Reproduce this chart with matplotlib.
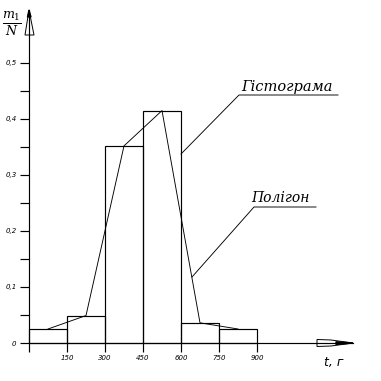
import matplotlib
matplotlib.use("Agg")
import matplotlib.pyplot as plt
import matplotlib.transforms as mtransforms
from matplotlib.patches import Polygon

# histogram data
bin_edges = [0, 150, 300, 450, 600, 750, 900]
rel_freq = [0.025, 0.049, 0.352, 0.415, 0.036, 0.025]
mids = [(a + b) / 2 for a, b in zip(bin_edges[:-1], bin_edges[1:])]

y_ticks = [0, 0.1, 0.2, 0.3, 0.4, 0.5]
y_labels = ["0", "0,1", "0,2", "0,3", "0,4", "0,5"]
x_ticks = [0, 150, 300, 450, 600, 750, 900]
x_labels = ["", "150", "300", "450", "600", "750", "900"]

W = 381
fig = plt.figure(figsize=(W / 100, W / 100), dpi=100)
ax = fig.add_axes([0, 0, 1, 1])
ax.patch.set_visible(False)

# pixel (from top-left) -> figure
T = mtransforms.Affine2D().scale(1 / W, -1 / W).translate(0, 1) + fig.transFigure

# scale: x 0 at px 29, 150 per 38px ; y 0 at px 343, 0.1 per 56px
ax.set_xlim(-29 * 150 / 38, (W - 29) * 150 / 38)
ax.set_ylim(-(W - 343) / 560, 343 / 560)

def px2data(x, y):
    return (x - 29) * 150 / 38, (343 - y) / 560

lw = 0.85
widths = [b - a for a, b in zip(bin_edges[:-1], bin_edges[1:])]
ax.bar(bin_edges[:-1], rel_freq, width=widths, align="edge",
       fill=False, edgecolor="black", linewidth=lw)
ax.plot(mids, rel_freq, color="black", linewidth=0.65)

# axes as spines through origin
for s in ["top", "right"]:
    ax.spines[s].set_visible(False)
ax.spines["left"].set_position(("data", 0))
ax.spines["bottom"].set_position(("data", 0))
ax.spines["left"].set_bounds(0, px2data(0, 10)[1])
ax.spines["bottom"].set_bounds(0, px2data(353, 0)[0])
ax.spines["left"].set_linewidth(lw)
ax.spines["bottom"].set_linewidth(lw)

ax.set_yticks(y_ticks)
ax.set_yticklabels(y_labels)
ax.set_yticks([0.05, 0.15, 0.25, 0.35, 0.45], minor=True)
ax.set_xticks(x_ticks)
ax.set_xticklabels(x_labels)
ax.tick_params(which="both", direction="out", length=6.5, width=lw, pad=2.5,
               labelsize=5)
for lab in ax.get_xticklabels() + ax.get_yticklabels():
    lab.set_fontstyle("italic")

# arrow heads
ax.add_patch(Polygon([(29, 10), (25, 35), (34, 35)], closed=True, fill=False,
                     edgecolor="black", linewidth=0.7, transform=T, clip_on=False))
ax.add_patch(Polygon([(29, 10), (27.5, 17), (31, 17)], closed=True, color="black",
                     transform=T, clip_on=False))
ax.add_patch(Polygon([(317, 339.5), (331, 340), (353, 343), (331, 346), (317, 346.5)],
                     closed=True, fill=False, edgecolor="black", linewidth=0.7,
                     transform=T, clip_on=False))
ax.add_patch(Polygon([(336, 341.8), (353, 343), (336, 344.5)], closed=True,
                     color="black", transform=T, clip_on=False))

# axis labels
plt.rcParams["mathtext.fontset"] = "dejavuserif"
ax.text(12, 24, r"$\frac{m_1}{N}$", transform=T, fontsize=13,
        ha="center", va="center")
ax.text(334, 366, "t, г", transform=T, fontsize=9, style="italic",
        family="DejaVu Sans", ha="center", va="baseline")

# leader annotations
ax.plot([181, 239, 338], [154, 95, 95], color="black", linewidth=0.65,
        transform=T, clip_on=False)
ax.text(241, 91, "Гістограма", transform=T, fontsize=10.5, style="italic",
        family="DejaVu Serif", ha="left", va="baseline")
ax.plot([192, 254, 316], [277, 207, 207], color="black", linewidth=0.65,
        transform=T, clip_on=False)
ax.text(251, 202, "Полігон", transform=T, fontsize=10, style="italic",
        family="DejaVu Serif", ha="left", va="baseline")

fig.savefig("out.png", dpi=100)
